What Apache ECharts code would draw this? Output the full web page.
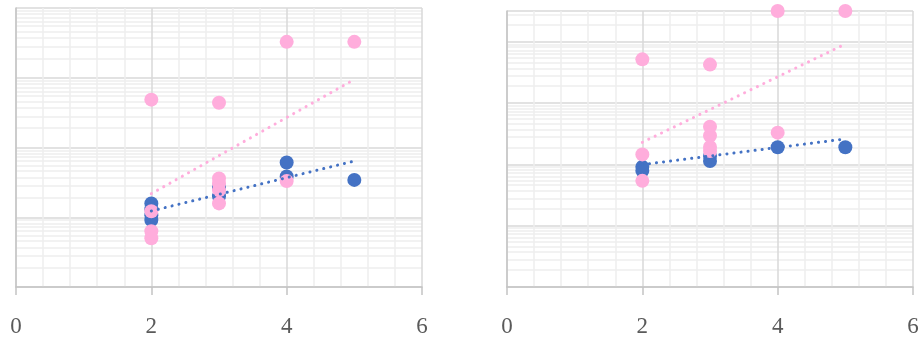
<!DOCTYPE html>
<html>
<head>
<meta charset="utf-8">
<title>Scatter with trend lines</title>
<script src="https://cdn.jsdelivr.net/npm/echarts@6/dist/echarts.min.js"></script>
<style>
  html, body { margin: 0; padding: 0; background: #ffffff; }
  #chart { width: 922px; height: 338px; }
</style>
</head>
<body>
<div id="chart"></div>
<script>
// x axis
const xTicks = [0, 2, 4, 6];

// Left panel: [x, y] points
const leftBlue = [
  [2, 15.8], [2, 13], [2, 10.7], [2, 9.1],
  [3, 26.8], [3, 20],
  [4, 61], [4, 38.5],
  [5, 34.3]
];
const leftPink = [
  [2, 485], [2, 12.2], [2, 6.3], [2, 5.0],
  [3, 439], [3, 36], [3, 30.6], [3, 24.3], [3, 15.8],
  [4, 3270], [4, 33],
  [5, 3270]
];
const leftBlueTrend = [[2, 12.3], [5, 64]];
const leftPinkTrend = [[2, 21.8], [5, 946]];
const leftYRange = [1, 10000];

// Right panel: [x, y] points
const rightBlue = [
  [2, 91.4], [2, 78.7],
  [3, 114], [3, 138],
  [4, 191],
  [5, 191]
];
const rightPink = [
  [2, 5200], [2, 146], [2, 54],
  [3, 4270], [3, 414], [3, 294], [3, 193], [3, 166],
  [4, 32000], [4, 331],
  [5, 32000]
];
const rightBlueTrend = [[2, 99.6], [5, 261]];
const rightPinkTrend = [[2, 230], [5, 9250]];
const rightYRange = [1, 32000];

const BLUE = '#4472C4';
const PINK = '#FFADDC';
const MAJOR = '#d9d9d9';
const MINOR = '#eeeeee';
const AXIS = '#c4c4c4';

function xAxisFor(gridIndex) {
  return {
    type: 'value', gridIndex,
    min: xTicks[0], max: xTicks[xTicks.length - 1], interval: 2,
    axisLine: { show: true, lineStyle: { color: AXIS, width: 1.5 } },
    axisTick: { show: true, length: 8, lineStyle: { color: AXIS, width: 1.5 } },
    axisLabel: {
      show: true, margin: 28,
      fontFamily: '"Liberation Serif", "DejaVu Serif", serif',
      fontSize: 23, color: '#5a5a5a'
    },
    splitLine: { show: true, lineStyle: { color: MAJOR, width: 1.5 } },
    minorTick: { show: false, splitNumber: 5 },
    minorSplitLine: { show: true, lineStyle: { color: MINOR, width: 1.5 } }
  };
}

function yAxisFor(gridIndex, range) {
  return {
    type: 'log', logBase: 10, gridIndex,
    min: range[0], max: range[1],
    axisLine: { show: true, lineStyle: { color: AXIS, width: 1.5 } },
    axisTick: { show: false },
    axisLabel: { show: false },
    splitLine: { show: true, lineStyle: { color: MAJOR, width: 1.5 } },
    minorTick: { show: false, splitNumber: 10 },
    minorSplitLine: { show: true, lineStyle: { color: MINOR, width: 1.5 } }
  };
}

function scatter(idx, data, color) {
  return {
    type: 'scatter', xAxisIndex: idx, yAxisIndex: idx,
    data, symbol: 'circle', symbolSize: 14,
    itemStyle: { color, opacity: 1 },
    emphasis: { disabled: true }, silent: true
  };
}

function trend(idx, data, color) {
  return {
    type: 'line', xAxisIndex: idx, yAxisIndex: idx,
    data, symbol: 'none', silent: true,
    lineStyle: { color, width: 3, type: [0.1, 7], cap: 'round' },
    z: 3
  };
}

const chart = echarts.init(document.getElementById('chart'), null, { renderer: 'canvas' });
chart.setOption({
  animation: false,
  backgroundColor: '#ffffff',
  grid: [
    { left: 16, top: 8, width: 406, height: 280 },
    { left: 507, top: 11, width: 406, height: 278 }
  ],
  xAxis: [xAxisFor(0), xAxisFor(1)],
  yAxis: [yAxisFor(0, leftYRange), yAxisFor(1, rightYRange)],
  series: [
    scatter(0, leftBlue, BLUE),
    scatter(0, leftPink, PINK),
    trend(0, leftPinkTrend, PINK),
    trend(0, leftBlueTrend, BLUE),
    scatter(1, rightBlue, BLUE),
    scatter(1, rightPink, PINK),
    trend(1, rightPinkTrend, PINK),
    trend(1, rightBlueTrend, BLUE)
  ]
});
</script>
</body>
</html>
